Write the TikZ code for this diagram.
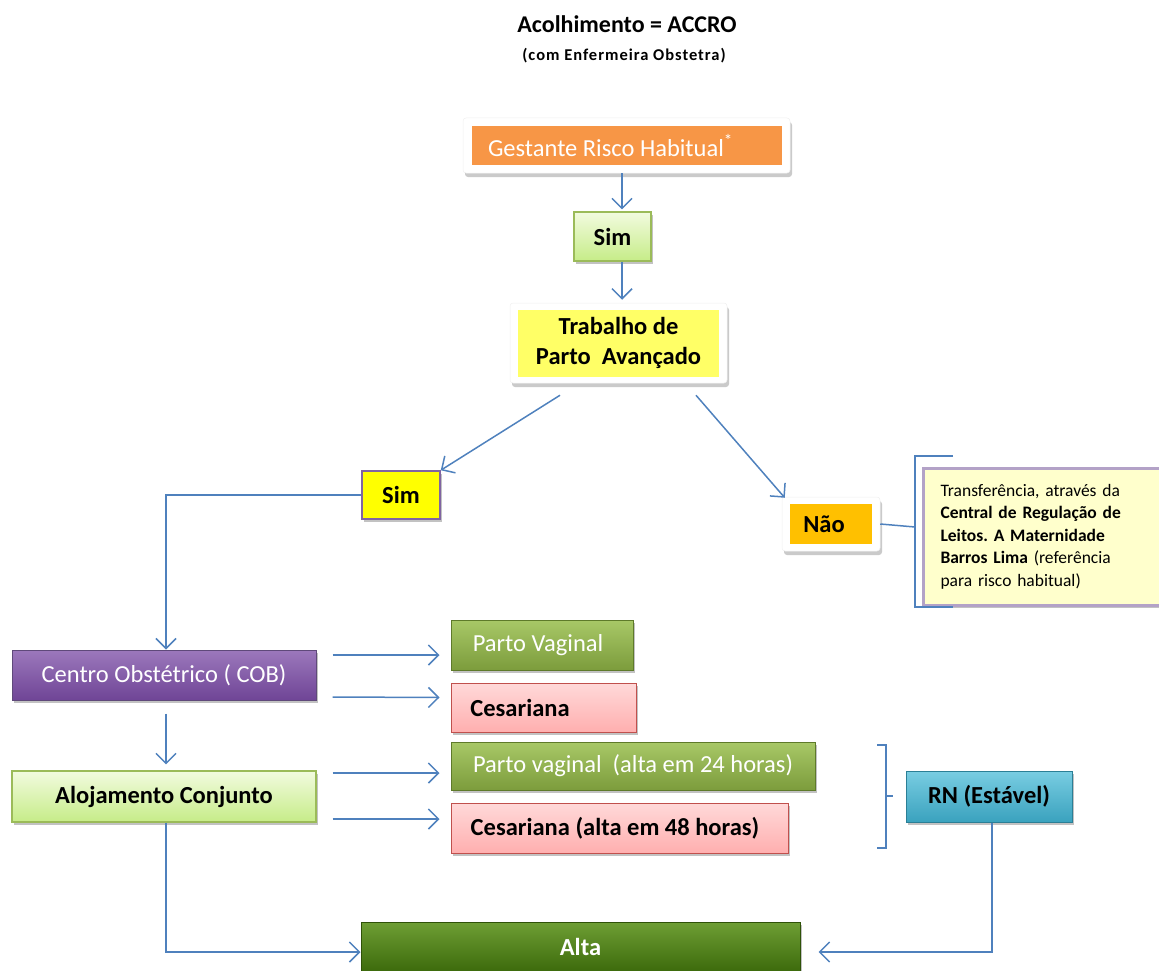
\documentclass[tikz,border=0pt]{standalone}
\usepackage{fontspec}
\setmainfont{Carlito}
\frenchspacing
\usetikzlibrary{arrows.meta,shadows,calc}
\definecolor{lnblue}{HTML}{4F81BD}
\definecolor{gorange}{HTML}{F79646}
\definecolor{lgreenT}{HTML}{F2FBDF}
\definecolor{lgreenB}{HTML}{C6EC88}
\definecolor{lgreenD}{HTML}{9BBB59}
\definecolor{tyellow}{HTML}{FFFF66}
\definecolor{syellow}{HTML}{FFFF00}
\definecolor{purpD}{HTML}{8064A2}
\definecolor{naoOr}{HTML}{FFC000}
\definecolor{notefill}{HTML}{FFFFCC}
\definecolor{notedraw}{HTML}{B3A2C7}
\definecolor{cobT}{HTML}{9C78BC}
\definecolor{cobB}{HTML}{6F4596}
\definecolor{cobD}{HTML}{5F497A}
\definecolor{pvT}{HTML}{A8C867}
\definecolor{pvB}{HTML}{7C9C3C}
\definecolor{pvD}{HTML}{5E7A2A}
\definecolor{cesT}{HTML}{FFD9D9}
\definecolor{cesB}{HTML}{FFAFAF}
\definecolor{cesD}{HTML}{C0504D}
\definecolor{rnT}{HTML}{79CDE2}
\definecolor{rnB}{HTML}{3AA2BE}
\definecolor{rnD}{HTML}{2B7F96}
\definecolor{altaT}{HTML}{6E9E34}
\definecolor{altaB}{HTML}{3D6B0C}
\definecolor{altaD}{HTML}{2F5208}
\tikzset{
  arr/.style={draw=lnblue, line width=1.5pt, -{Straight Barb[length=10pt,width=20pt,line width=1.5pt]}},
  ln/.style={draw=lnblue, line width=1.5pt},
  brk/.style={draw=lnblue, line width=2pt},
  shad/.style={drop shadow={shadow xshift=2pt, shadow yshift=-3pt, opacity=0.4, fill=black!60}},
  outerframe/.style={fill=white, draw=black!6, line width=0.5pt, rounded corners=3pt, drop shadow={shadow xshift=2pt, shadow yshift=-4pt, opacity=0.35, fill=black!60}, inner sep=0pt},
  box/.style={inner sep=0pt, align=center, font=\fontsize{24.5}{30}\selectfont},
  bbox/.style={box, font=\fontsize{24.5}{30}\selectfont\bfseries},
  wbox/.style={box, text=white},
}
\begin{document}
\begin{tikzpicture}[x=1pt,y=-1pt]
\useasboundingbox (0,0) rectangle (1159,971);
% titles
\node[font=\fontsize{24}{28}\selectfont\bfseries] (title) at (627,24) {Acolhimento = ACCRO};
\node[font=\fontsize{16.5}{18}\selectfont\bfseries\addfontfeature{LetterSpace=6}] (subt) at (624,56) {(com Enfermeira Obstetra)};
% nodes
\node[outerframe, minimum width=327pt, minimum height=55pt] (gest) at (626.5,145.5) {};
\node[wbox, fill=gorange, minimum width=310pt, minimum height=39pt] (gestin) at (gest.center) {Gestante Risco Habitual\textsuperscript{*}\hspace*{32pt}};
\node[bbox, shad, draw=lgreenD, line width=1.2pt, top color=lgreenT, bottom color=lgreenB, minimum width=77pt, minimum height=49pt] (sim1) at (612.5,236.5) {Sim};
\node[outerframe, minimum width=217pt, minimum height=80pt] (trab) at (618.5,343) {};
\node[bbox, fill=tyellow, minimum width=201pt, minimum height=67pt] (trabin) at (trab.center) {Trabalho de\\Parto~~Avançado};
\node[bbox, shad, draw=purpD, line width=1.5pt, fill=syellow, minimum width=78pt, minimum height=48pt] (sim2) at (401,495) {Sim};
\node[outerframe, minimum width=98pt, minimum height=54pt] (nao) at (831,524) {};
\node[bbox, fill=naoOr, minimum width=82pt, minimum height=40pt] (naoin) at (nao.center) {Não\hspace*{14pt}};
\node[shad, draw=notedraw, line width=3pt, fill=notefill, anchor=west, minimum height=137pt, text width=210pt, inner xsep=17pt, align=left, font=\fontsize{17.5}{22.5}\selectfont] (note) at (922,536.5) {Transferência, através da\\\textbf{Central de Regulação de}\\\textbf{Leitos. A Maternidade}\\\textbf{Barros Lima} (referência\\para risco habitual)};
\node[wbox, shad, draw=cobD, line width=1pt, top color=cobT, bottom color=cobB, minimum width=304pt, minimum height=50pt] (cob) at (164,675) {Centro Obstétrico ( COB)};
\node[wbox, shad, draw=pvD, line width=1pt, top color=pvT, bottom color=pvB, minimum width=182pt, minimum height=50pt] (pv) at (542,645) {Parto Vaginal\hspace*{8pt}};
\node[bbox, shad, draw=cesD, line width=1pt, top color=cesT, bottom color=cesB, minimum width=185pt, minimum height=49pt] (ces) at (543.5,707.5) {Cesariana\hspace*{47pt}};
\node[bbox, shad, draw=lgreenD, line width=1.2pt, top color=lgreenT, bottom color=lgreenB, minimum width=304pt, minimum height=51pt] (aloj) at (164,796.5) {Alojamento Conjunto};
\node[wbox, shad, draw=pvD, line width=1pt, top color=pvT, bottom color=pvB, minimum width=364pt, minimum height=48pt] (pv2) at (633,766) {Parto vaginal~~(alta em 24 horas)};
\node[bbox, shad, draw=cesD, line width=1pt, top color=cesT, bottom color=cesB, minimum width=337pt, minimum height=50pt] (ces2) at (619.5,828) {Cesariana (alta em 48 horas)\hspace*{9pt}};
\node[bbox, shad, draw=rnD, line width=1pt, top color=rnT, bottom color=rnB, minimum width=166pt, minimum height=51pt] (rn) at (989,796.5) {RN (Estável)};
\node[wbox, shad, draw=altaD, line width=1pt, top color=altaT, bottom color=altaB, minimum width=439pt, minimum height=49pt, font=\fontsize{24.5}{30}\selectfont\bfseries] (alta) at (580.5,946.5) {Alta};
% connectors
\draw[arr, shorten >=2pt] ([xshift=-4.5pt]gest.south) -- ([xshift=9.5pt]sim1.north);
\draw[arr, shorten >=3pt] ([xshift=9.5pt]sim1.south) -- ([xshift=3.5pt]trab.north);
\draw[arr] ([xshift=-58.5pt,yshift=-12pt]trab.south) -- (sim2.north east);
\draw[arr] ([xshift=77.5pt,yshift=-12pt]trab.south) -- ([xshift=3pt,yshift=-1pt]nao.north west);
\coordinate (bk1) at (915,527);
\draw[ln] (nao.east) -- (bk1);
\draw[brk] (953,456) -- (915,456) -- (915,607) -- (953,607);
\draw[arr] (sim2.west) -| ([xshift=2pt]cob.north);
\draw[arr] ([xshift=16pt,yshift=20pt]cob.east) -- ([xshift=-11pt,yshift=-10pt]pv.west);
\draw[arr] ([xshift=16pt,yshift=-22pt]cob.east) -- ([xshift=-11pt,yshift=10pt]ces.west);
\draw[arr, shorten <=13pt, shorten >=6pt] ([xshift=2pt]cob.south) -- ([xshift=2pt]aloj.north);
\draw[arr] ([xshift=16pt,yshift=23.5pt]aloj.east) -- ([xshift=-11pt,yshift=-7pt]pv2.west);
\draw[arr] ([xshift=16pt,yshift=-22.5pt]aloj.east) -- ([xshift=-11pt,yshift=9pt]ces2.west);
\draw[brk] (877,745) -- (886,745) -- (886,848) -- (877,848);
\draw[brk] (886,796) -- (893,796);
\draw[arr] ([xshift=2pt]aloj.south) |- ([yshift=-5.5pt]alta.west);
\draw[arr, shorten >=18pt] ([xshift=3pt]rn.south) |- ([yshift=-5.5pt]alta.east);
\end{tikzpicture}
\end{document}
